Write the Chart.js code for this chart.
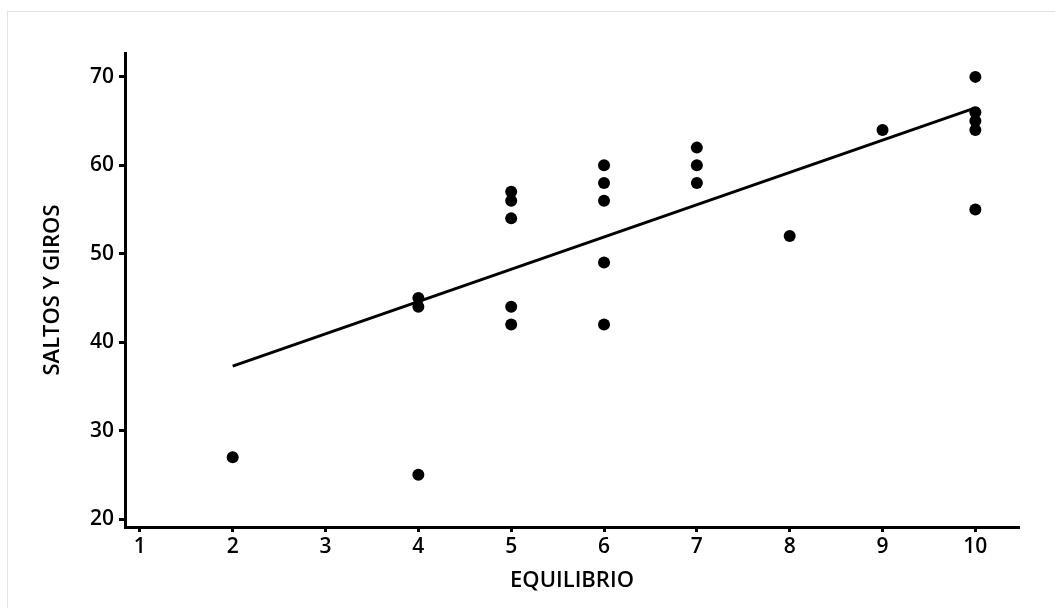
<!DOCTYPE html>
<html>
<head>
<meta charset="utf-8">
<script src="https://cdn.jsdelivr.net/npm/chart.js@4"></script>
<style>
  body { margin: 0; background: #fff; }
  #frame { position: absolute; left: 7px; top: 11px; width: 1200px; height: 700px;
           border-left: 1px solid #e3e3e3; border-top: 1px solid #e3e3e3; }
  #c { position: absolute; left: 0; top: 0; }
</style>
</head>
<body>
<div id="frame"></div>
<canvas id="c" width="1055" height="608"></canvas>
<script>
// equilibrio (x) vs saltos y giros (y)
var equilibrio = [2, 4, 4, 4, 5, 5, 5, 5, 5, 6, 6, 6, 6, 6, 7, 7, 7, 8, 9, 10, 10, 10, 10, 10];
var saltos     = [27, 25, 44, 45, 42, 44, 54, 56, 57, 42, 49, 56, 58, 60, 58, 60, 62, 52, 64, 55, 64, 65, 66, 70];
// fitted line
var lineX = [2, 10];
var lineY = [37.3, 66.5];
var xTicks = [1, 2, 3, 4, 5, 6, 7, 8, 9, 10];
var yTicks = [20, 30, 40, 50, 60, 70];

var pts = equilibrio.map(function(x, i){ return {x: x, y: saltos[i]}; });
var fit = lineX.map(function(x, i){ return {x: x, y: lineY[i]}; });

Chart.defaults.font.family = "'Open Sans', sans-serif";
Chart.defaults.font.size = 21;
Chart.defaults.font.weight = '600';
Chart.defaults.color = '#000';

var ctx = document.getElementById('c').getContext('2d');
var chart = new Chart(ctx, {
  type: 'scatter',
  data: {
    datasets: [{
      label: 'datos',
      data: pts,
      backgroundColor: '#000',
      borderColor: '#000',
      pointRadius: 6,
      pointBorderWidth: 0
    }, {
      type: 'line',
      label: 'ajuste',
      data: fit,
      borderColor: '#000',
      borderWidth: 3,
      pointRadius: 0,
      fill: false
    }]
  },
  options: {
    responsive: false,
    animation: false,
    layout: { padding: { top: 53, right: 36, left: 0, bottom: 0 } },
    plugins: { legend: { display: false }, tooltip: { enabled: false } },
    scales: {
      x: {
        type: 'linear',
        min: 0.84, max: 10.47,
        afterBuildTicks: function(s){ s.ticks = xTicks.map(function(v){ return {value: v}; }); },
        afterFit: function(s){ s.height = 81; },
        border: { display: true, color: '#000', width: 3 },
        grid: { drawOnChartArea: false, drawTicks: true, tickLength: 5, tickWidth: 3, tickColor: '#000' },
        ticks: { padding: 2, maxRotation: 0, autoSkip: false },
        title: { display: true, text: 'EQUILIBRIO', font: { size: 22 }, padding: { top: 4, bottom: 14 } }
      },
      y: {
        min: 19.1, max: 72.7,
        afterBuildTicks: function(s){ s.ticks = yTicks.map(function(v){ return {value: v}; }); },
        afterFit: function(s){ s.width = 125; },
        border: { display: true, color: '#000', width: 3 },
        grid: { drawOnChartArea: false, drawTicks: true, tickLength: 6, tickWidth: 3, tickColor: '#000' },
        ticks: { padding: 5 },
        title: { display: true, text: 'SALTOS Y GIROS', font: { size: 22 }, padding: { top: 40, bottom: 0 } }
      }
    }
  }
});
</script>
</body>
</html>
